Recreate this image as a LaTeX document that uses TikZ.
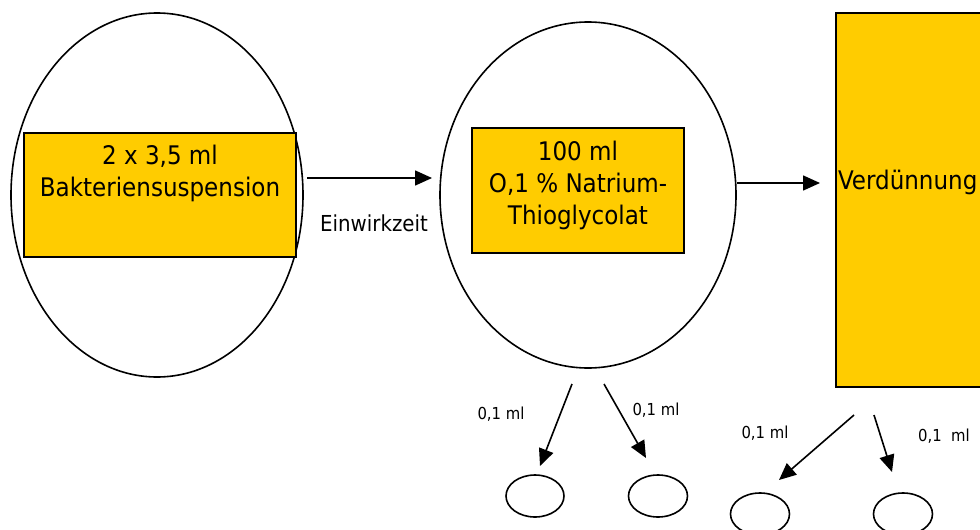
\documentclass[tikz,border=0pt]{standalone}
\usepackage{fontspec}
\setmainfont{DejaVu Sans Condensed}
\usetikzlibrary{shapes.geometric,arrows.meta}
\definecolor{gold}{HTML}{FFCC00}
\tikzset{
  oval/.style={draw=black, line width=1.6pt, ellipse, inner sep=0pt},
  ybox/.style={draw=black, line width=1.6pt, fill=gold, rectangle, inner sep=0pt},
  bigtxt/.style={font=\fontsize{25.6}{32}\selectfont, align=center, inner sep=0pt},
  midtxt/.style={font=\fontsize{22}{26}\selectfont, inner sep=0pt},
  smalltxt/.style={font=\fontsize{16.5}{20}\selectfont, inner sep=0pt},
  arr/.style={line width=1.6pt, -{Triangle[length=17pt,width=15pt]}}
}
\begin{document}
\begin{tikzpicture}[x=1pt,y=-1pt]
\useasboundingbox (0,0) rectangle (980,530);
\clip (0,0) rectangle (980,530);
% big ellipses
\node[oval, minimum width=292, minimum height=364] (e1) at (157,195) {};
\node[oval, minimum width=296, minimum height=346] (e2) at (588,195) {};
% boxes
\node[ybox, minimum width=272, minimum height=124] (r1) at (160,195) {};
\node[bigtxt] (t1) at (160,173) {2 x 3,5 ml\\Bakteriensuspension};
\node[ybox, minimum width=212, minimum height=125] (r2) at (578,190.5) {};
\node[bigtxt] (t2) at (578,185) {100 ml\\O,1 \% Natrium-\\Thioglycolat};
\node[ybox, minimum width=200, minimum height=374] (r3) at (936,200) {};
\node[bigtxt, anchor=west] (t3) at (838,182) {Verdünnung};
% connectors between big shapes
\coordinate (a1s) at (307,178);
\coordinate (a1e) at (432,178);
\draw[arr] (a1s) -- (a1e);
\node[midtxt] (ein) at (374,223) {Einwirkzeit};
\coordinate (a2e) at (820,183);
\draw[arr] (e2.east |- a2e) -- (a2e);
% small ellipses
\node[oval, minimum width=58, minimum height=42] (s1) at (535,496) {};
\node[oval, minimum width=59, minimum height=42] (s2) at (658,496) {};
\node[oval, minimum width=59, minimum height=42] (s3) at (760,514) {};
\node[oval, minimum width=59, minimum height=42] (s4) at (903,514) {};
% bottom arrows
\coordinate (pA) at (572,384); \coordinate (qA) at (540,466);
\coordinate (pB) at (604,384); \coordinate (qB) at (646,458);
\coordinate (pC) at (854,415); \coordinate (qC) at (779,480);
\coordinate (pD) at (874,415); \coordinate (qD) at (892,472);
\draw[arr] (pA) -- (qA);
\draw[arr] (pB) -- (qB);
\draw[arr] (pC) -- (qC);
\draw[arr] (pD) -- (qD);
\node[smalltxt] (l1) at (501,414) {0,1 ml};
\node[smalltxt] (l2) at (656,410) {0,1 ml};
\node[smalltxt] (l3) at (765,433) {0,1 ml};
\node[smalltxt] (l4) at (944,436) {0,1~~ml};
\end{tikzpicture}
\end{document}
